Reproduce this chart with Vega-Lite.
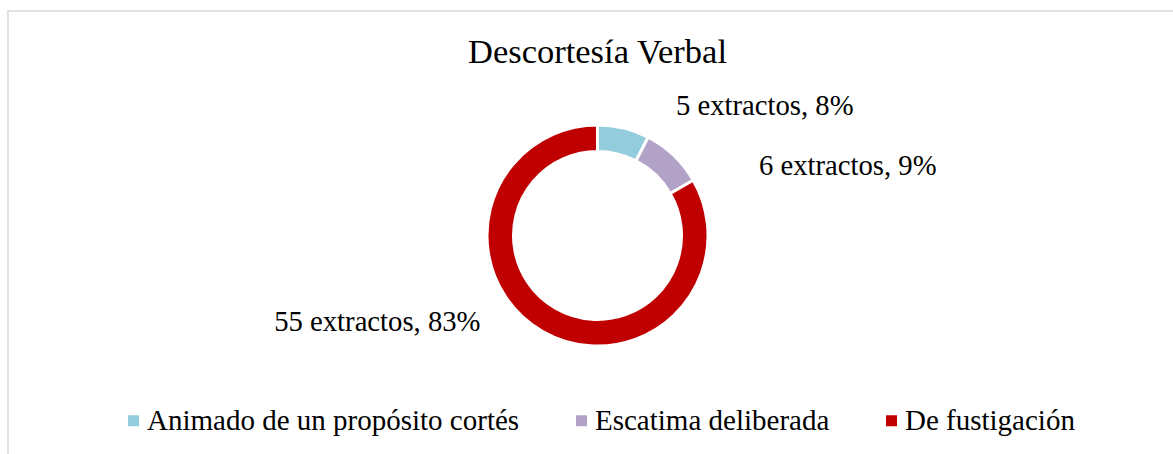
{
  "$schema": "https://vega.github.io/schema/vega-lite/v6.json",
  "autosize": {"type": "none"},
  "width": 1179,
  "height": 449,
  "padding": {"left": 8, "top": 11, "right": -14, "bottom": -6},
  "background": "white",
  "view": {"stroke": "#D9D9D9", "strokeWidth": 1.5},
  "title": {
    "text": "Descortesía Verbal",
    "font": "Liberation Serif",
    "fontSize": 34.5,
    "fontWeight": "normal",
    "color": "#000000",
    "anchor": "middle",
    "offset": -59
  },
  "data": {
    "values": [
      {"categoria": "Animado de un propósito cortés", "extractos": 5, "etiqueta": "5 extractos, 8%", "orden": 1},
      {"categoria": "Escatima deliberada", "extractos": 6, "etiqueta": "6 extractos, 9%", "orden": 2},
      {"categoria": "De fustigación", "extractos": 55, "etiqueta": "55 extractos, 83%", "orden": 3}
    ]
  },
  "encoding": {
    "theta": {"field": "extractos", "type": "quantitative", "stack": true},
    "order": {"field": "orden", "type": "quantitative"}
  },
  "layer": [
    {
      "mark": {"type": "arc", "outerRadius": 110.5, "innerRadius": 84, "stroke": "white", "strokeWidth": 3},
      "encoding": {
        "color": {
          "field": "categoria",
          "type": "nominal",
          "scale": {
            "domain": ["Animado de un propósito cortés", "Escatima deliberada", "De fustigación"],
            "range": ["#93CDDD", "#B3A2C7", "#C00000"]
          },
          "legend": {
            "title": null,
            "orient": "none",
            "legendX": 111,
            "legendY": 395,
            "direction": "horizontal",
            "columns": 3,
            "symbolType": "square",
            "symbolSize": 121,
            "symbolStrokeWidth": 0,
            "labelFont": "Liberation Serif",
            "labelFontSize": 29,
            "labelColor": "#000000",
            "labelLimit": 600,
            "labelOffset": -1,
            "columnPadding": 47,
            "padding": 0
          }
        }
      }
    },
    {
      "mark": {"type": "text", "radius": 124, "dx": 138, "dy": 0, "align": "center", "baseline": "alphabetic", "font": "Liberation Serif", "fontSize": 28.7, "color": "#000000"},
      "encoding": {
        "detail": {"field": "categoria", "type": "nominal"},
        "text": {"condition": {"test": "datum.orden === 1", "field": "etiqueta"}, "value": ""}
      }
    },
    {
      "mark": {"type": "text", "radius": 83, "dx": 193, "dy": 0, "align": "center", "baseline": "alphabetic", "font": "Liberation Serif", "fontSize": 28.7, "color": "#000000"},
      "encoding": {
        "detail": {"field": "categoria", "type": "nominal"},
        "text": {"condition": {"test": "datum.orden === 2", "field": "etiqueta"}, "value": ""}
      }
    },
    {
      "mark": {"type": "text", "radius": 110.3, "dx": -165, "dy": 0, "align": "center", "baseline": "alphabetic", "font": "Liberation Serif", "fontSize": 28.7, "color": "#000000"},
      "encoding": {
        "detail": {"field": "categoria", "type": "nominal"},
        "text": {"condition": {"test": "datum.orden === 3", "field": "etiqueta"}, "value": ""}
      }
    }
  ]
}
